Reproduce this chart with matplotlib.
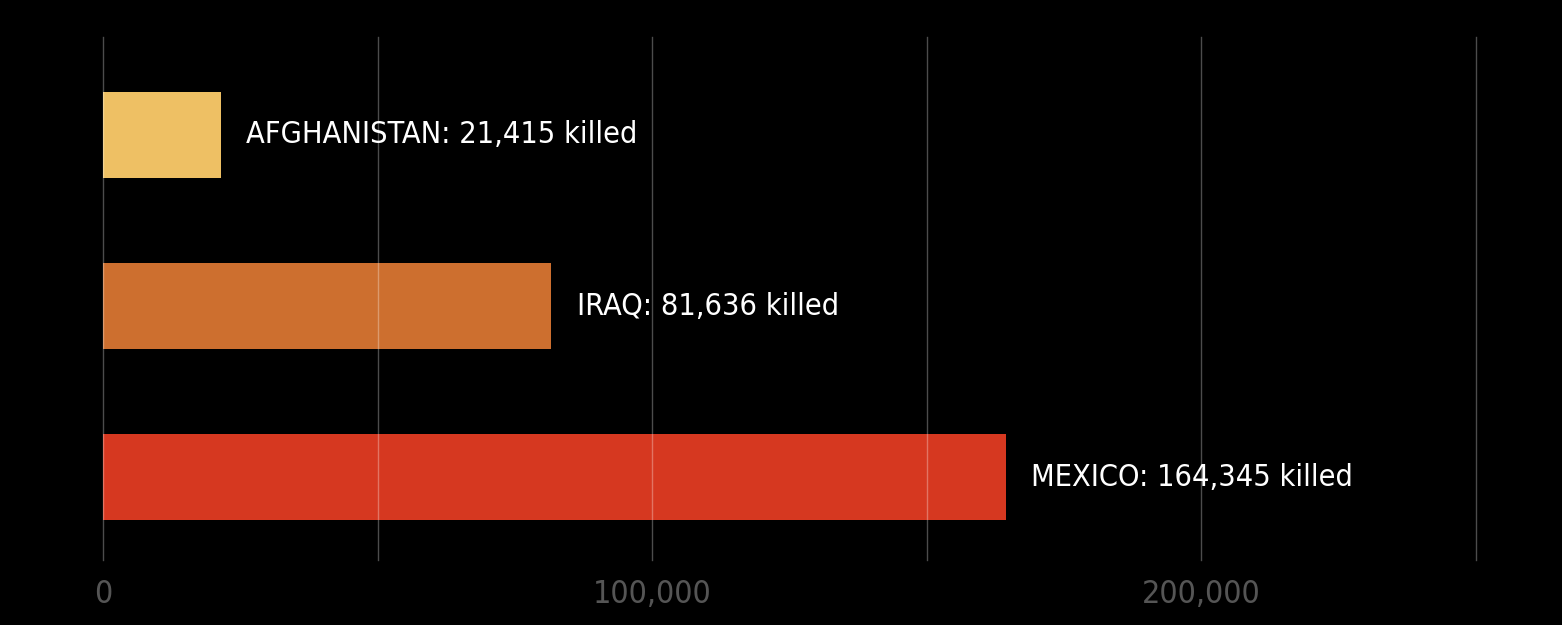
import matplotlib
matplotlib.use("Agg")
import matplotlib.pyplot as plt

countries = ["AFGHANISTAN", "IRAQ", "MEXICO"]
killed = [21415, 81636, 164345]
colors = ["#EEC064", "#CD6F2F", "#D63820"]
tick_vals = [0, 100000, 200000]
tick_labels = ["0", "100,000", "200,000"]

fig = plt.figure(figsize=(15.62, 6.25), dpi=100, facecolor="black")
ax = fig.add_axes([103/1562, 1-560/625, 1373/1562, 523/625], facecolor="black")
y = list(range(len(countries)))
ax.barh(y, killed, height=0.5, color=colors, zorder=1)
for g in range(0, 250001, 50000):
    ax.axvline(g, color="white", alpha=0.3, lw=1, zorder=2, clip_on=False)
for yi, c, k in zip(y, countries, killed):
    ax.text(k + 4600, yi, f"{c}: {k:,} killed", color="white", fontsize=22,
            va="center", ha="left", fontstretch="condensed", family="DejaVu Sans")
ax.set_xlim(0, 250000)
ax.set_ylim(2.485, -0.573)
ax.set_yticks([])
ax.set_xticks(tick_vals)
ax.set_xticklabels(tick_labels, color="#555555", fontsize=23, fontstretch="condensed")
ax.tick_params(axis="x", length=0, pad=14)
for s in ax.spines.values():
    s.set_visible(False)
fig.savefig("out.png", dpi=100, facecolor="black")
